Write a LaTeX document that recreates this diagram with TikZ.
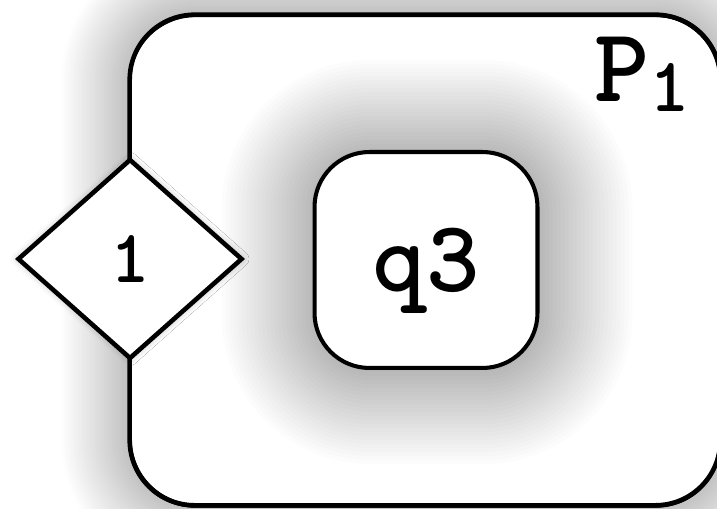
\documentclass[tikz,border=0pt]{standalone}
\usetikzlibrary{calc,shapes.geometric,shadows.blur}

\begin{document}
\begin{tikzpicture}[x=0.02cm, y=-0.02cm,
   every node/.style={font=\ttfamily, fill=white, inner sep=0pt},
   frame/.style={minimum width=11.8cm, minimum height=9.8cm, rounded corners=1.3cm,
      blur shadow={shadow xshift=0pt, shadow yshift=0pt, shadow blur radius=1.4cm,
                   shadow blur steps=40, shadow opacity=50}},
   sketch/.style={rounded corners=1.3cm, line width=#1},
   halo/.style={fill=black, fill opacity=0.013},
   port/.style={draw, diamond, line width=2.6pt, minimum width=4.5cm, minimum height=4cm,
      font=\ttfamily\bfseries\fontsize{43}{43}\selectfont,
      blur shadow={shadow xshift=0pt, shadow yshift=0pt, shadow blur radius=0.15cm,
                   shadow opacity=30}},
   state/.style={draw, rounded corners=1.1cm, line width=2.3pt,
      minimum width=4.46cm, minimum height=4.32cm, text depth=0pt,
      font=\ttfamily\bfseries\fontsize{58}{58}\selectfont}]

\useasboundingbox (0,0) rectangle (717,509);

% process box P1, its border drawn in a few loose strokes
\node[frame] (proc) at (425,260) {};
\foreach \dx/\dy/\w in {0/0/2.6pt, 1.5/-1/0.7pt, -1/1.5/0.6pt, 0.8/2/0.5pt}
   \draw[sketch=\w] ($(proc.north west)+(\dx,\dy)$) rectangle ($(proc.south east)+(\dx,\dy)$);
\node[fill=none, anchor=base west, font=\ttfamily\bfseries\fontsize{60}{60}\selectfont] (ptitle) at (594,102)
   {P\raisebox{-0.2cm}{\fontsize{44}{44}\selectfont 1}};

% soft shadow under q3, one thin layer per step
\foreach \r in {2,6,...,94} {
   \pgfmathsetmacro\rc{1.1+0.02*\r}
   \fill[halo, rounded corners=\rc cm] (315.5-\r,154-\r) rectangle (538.5+\r,370+\r);
}
\node[state] (q3) at (426,260) {q3};
\node[port] (p1) at (130,259) {1};

\end{tikzpicture}
\end{document}
